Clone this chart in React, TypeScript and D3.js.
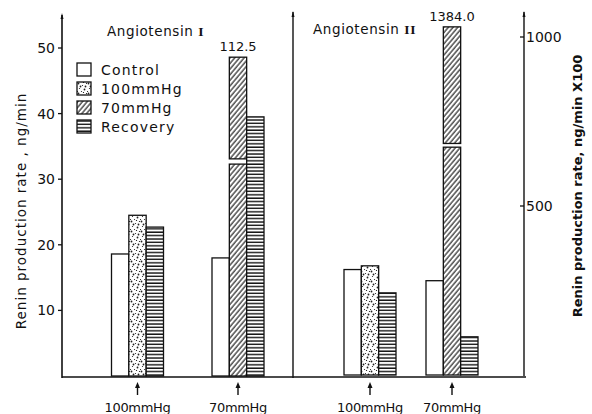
import * as d3 from 'd3';

// treatment groups along the bottom
const groups = ['100mmHg', '70mmHg'];
const legendNames = ['Control', '100mmHg', '70mmHg', 'Recovery'];
const barKeys = ['control', 'treatment', 'recovery'];

// Angiotensin I, ng/min (left axis)
const angIControl = [18.6, 18.0];
const angITreatment = [24.5, 112.5];
const angIRecovery = [22.7, 39.5];
// off-scale bar is cut: drawn up to this value, with a gap
const angIShownTop = 48.6;
const angIGap = [32.3, 33.1];

// Angiotensin II, ng/min x100 (right axis)
const angIIControl = [312, 279];
const angIITreatment = [323, 1384];
const angIIRecovery = [243, 113];
const angIIShownTop = 1030;
const angIIGap = [674, 685];

const leftTicks = [10, 20, 30, 40, 50];
const rightTicks = [500, 1000];

const W = 592;
const H = 414;
const font = '"DejaVu Sans", sans-serif';

const yL = d3.scaleLinear().domain([0, 50]).range([376, 48]);
const yR = d3.scaleLinear().domain([0, 1000]).range([375, 37]);
const xLeft = d3.scalePoint<string>().domain(groups).range([137.5, 238]);
const xRight = d3.scalePoint<string>().domain(groups).range([370, 452]);
const xInner = d3.scaleBand<string>().domain(barKeys).range([-26, 26]);

const fillFor = (key: string, gi: number) => {
  if (key === 'control') return '#fff';
  if (key === 'recovery') return 'url(#recov)';
  return gi === 0 ? 'url(#dots)' : 'url(#hatch)';
};

function Panel({ xs, y, control, treatment, recovery, shownTop, gap, fmt }: any) {
  const bw = xInner.bandwidth();
  const rows = groups.map((g, gi) => ({
    g,
    gi,
    vals: [control[gi], treatment[gi], recovery[gi]],
  }));
  return (
    <g>
      {rows.map(({ g, gi, vals }) =>
        barKeys.map((k, ki) => {
          const v = vals[ki];
          const x0 = (xs(g) as number) + (xInner(k) as number);
          const fill = fillFor(k, gi);
          if (v > shownTop) {
            return (
              <g key={g + k}>
                <rect x={x0} y={y(gap[0])} width={bw} height={y(0) - y(gap[0])} fill={fill} stroke="#111" strokeWidth={1.3} />
                <rect x={x0} y={y(shownTop)} width={bw} height={y(gap[1]) - y(shownTop)} fill={fill} stroke="#111" strokeWidth={1.3} />
                <text x={x0 + bw / 2} y={y(shownTop) - 6} textAnchor="middle" fontSize={13} fontFamily={font} fill="#111">
                  {fmt(v)}
                </text>
              </g>
            );
          }
          return (
            <rect key={g + k} x={x0} y={y(v)} width={bw} height={y(0) - y(v)} fill={fill} stroke="#111" strokeWidth={1.3} />
          );
        })
      )}
      {groups.map((g) => {
        const cx = xs(g) as number;
        return (
          <g key={'lab' + g}>
            <line x1={cx} x2={cx} y1={395} y2={386} stroke="#111" strokeWidth={1.4} />
            <path d={`M${cx - 2.5},388 L${cx},382 L${cx + 2.5},388 Z`} fill="#111" />
            <text x={cx} y={412} textAnchor="middle" fontSize={13} letterSpacing={-0.3} fontFamily={font} fill="#111">
              {g}
            </text>
          </g>
        );
      })}
    </g>
  );
}

export default function App() {
  const legendRows = legendNames.map((n, i) => ({ n, i }));
  const legendFill = ['#fff', 'url(#dots)', 'url(#hatch)', 'url(#recov)'];
  const dotPts = [
    [1, 1], [5, 3], [2, 6], [7, 7], [4, 9], [9, 1], [8, 4], [0, 9], [6, 0], [3, 4],
  ];
  return (
    <svg width={W} height={H} style={{ position: 'absolute', left: 0, top: 0, background: '#fff' }}>
      <defs>
        <pattern id="hatch" width={3.6} height={3.6} patternUnits="userSpaceOnUse" patternTransform="rotate(40)">
          <rect width={3.6} height={3.6} fill="#fff" />
          <line x1={1} y1={0} x2={1} y2={3.6} stroke="#222" strokeWidth={1.2} />
        </pattern>
        <pattern id="recov" width={6} height={3.4} patternUnits="userSpaceOnUse">
          <rect width={6} height={3.4} fill="#fff" />
          <line x1={0} y1={1} x2={6} y2={1} stroke="#111" strokeWidth={1.4} />
        </pattern>
        <pattern id="dots" width={10} height={10} patternUnits="userSpaceOnUse">
          <rect width={10} height={10} fill="#fff" />
          {dotPts.map(([px, py], i) => (
            <circle key={i} cx={px + 0.5} cy={py + 0.5} r={i % 3 === 0 ? 0.9 : 0.6} fill="#222" />
          ))}
        </pattern>
      </defs>

      {/* frame: left axis, divider, right axis, baseline */}
      <line x1={62} x2={62} y1={15} y2={378} stroke="#111" strokeWidth={1.6} />
      <path d="M60.5,19 L62,13 L63.5,19 Z" fill="#111" />
      <line x1={293} x2={293} y1={12} y2={378} stroke="#111" strokeWidth={1.4} />
      <path d="M291.5,17 L293,11 L294.5,17 Z" fill="#111" />
      <line x1={524} x2={524} y1={12} y2={376} stroke="#111" strokeWidth={1.4} />
      <path d="M522.5,17 L524,11 L525.5,17 Z" fill="#111" />
      <line x1={62} x2={526} y1={377} y2={377} stroke="#111" strokeWidth={1.6} />

      {/* left ticks */}
      {leftTicks.map((t) => (
        <g key={t}>
          <line x1={58} x2={62} y1={yL(t)} y2={yL(t)} stroke="#111" strokeWidth={1.3} />
          <text x={55} y={yL(t) + 5} textAnchor="end" fontSize={14} fontFamily={font} fill="#111">
            {t}
          </text>
        </g>
      ))}
      {/* right ticks */}
      {rightTicks.map((t) => (
        <g key={t}>
          <line x1={520} x2={524} y1={yR(t)} y2={yR(t)} stroke="#111" strokeWidth={1.3} />
          <text x={526} y={yR(t) + 5} fontSize={14} fontFamily={font} fill="#111">
            {t}
          </text>
        </g>
      ))}

      <text transform="translate(26,211) rotate(-90)" textAnchor="middle" fontSize={13.5} letterSpacing={1} fontFamily={font} fill="#111">
        Renin production rate , ng/min
      </text>
      <text transform="translate(582,186) rotate(-90)" textAnchor="middle" fontSize={13} fontWeight="bold" fontFamily={font} fill="#111">
        Renin production rate, ng/min X100
      </text>

      <text x={107} y={36} fontSize={13.5} letterSpacing={0.6} fontFamily={font} fill="#111">
        Angiotensin <tspan fontFamily="'Liberation Serif', serif" fontWeight="bold">I</tspan>
      </text>
      <text x={313} y={34} fontSize={13.5} letterSpacing={0.6} fontFamily={font} fill="#111">
        Angiotensin <tspan fontFamily="'Liberation Serif', serif" fontWeight="bold">II</tspan>
      </text>

      {/* legend */}
      {legendRows.map(({ n, i }) => (
        <g key={n} transform={`translate(77,${63 + i * 19})`}>
          <rect width={14} height={13} fill={legendFill[i]} stroke="#111" strokeWidth={1.3} />
          <text x={24} y={11.5} fontSize={14} letterSpacing={1.2} fontFamily={font} fill="#111">
            {n}
          </text>
        </g>
      ))}

      <Panel
        xs={xLeft}
        y={yL}
        control={angIControl}
        treatment={angITreatment}
        recovery={angIRecovery}
        shownTop={angIShownTop}
        gap={angIGap}
        fmt={(v: number) => v.toFixed(1)}
      />
      <Panel
        xs={xRight}
        y={yR}
        control={angIIControl}
        treatment={angIITreatment}
        recovery={angIIRecovery}
        shownTop={angIIShownTop}
        gap={angIIGap}
        fmt={(v: number) => v.toFixed(1)}
      />
    </svg>
  );
}
